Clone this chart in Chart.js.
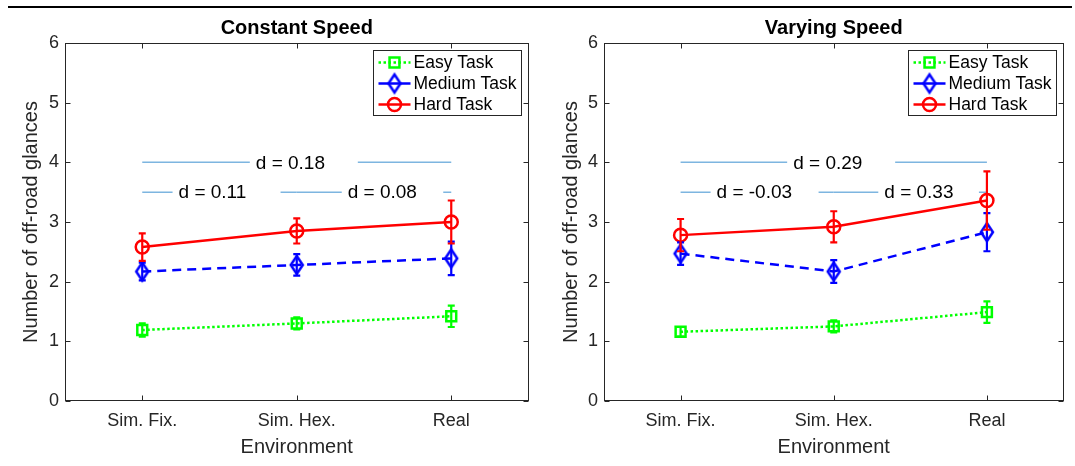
<!DOCTYPE html>
<html lang="en">
<head>
  <meta charset="UTF-8">
  <title>Off-road glances by environment</title>
  <script src="https://cdn.jsdelivr.net/npm/chart.js@4.4.0/dist/chart.umd.min.js"></script>
  <style>
    body { margin: 0; background: #fff; font-family: "Liberation Sans", Arial, sans-serif; }
    .page { position: relative; width: 1075px; height: 466px; }
    .panel { position: absolute; top: 0; height: 466px; }
    .rule { position: absolute; left: 8px; top: 6px; width: 1064px; height: 2px; background: #000; }
  </style>
</head>
<body>
  <div class="page">
    <div class="panel" style="left:0;width:540px"><canvas id="constChart" width="540" height="466"></canvas></div>
    <div class="panel" style="left:540px;width:535px"><canvas id="varyChart" width="535" height="466"></canvas></div>
    <div class="rule"></div>
  </div>

  <script>
    // categories and axis
    const environments = ['Sim. Fix.', 'Sim. Hex.', 'Real'];
    const yTicks = [0, 1, 2, 3, 4, 5, 6];
    const taskNames = ['Easy Task', 'Medium Task', 'Hard Task'];

    // constant speed: means and error bar half-lengths
    const constEasy = [1.19, 1.30, 1.42];
    const constEasyErr = [0.11, 0.10, 0.18];
    const constMedium = [2.17, 2.28, 2.39];
    const constMediumErr = [0.15, 0.18, 0.28];
    const constHard = [2.58, 2.85, 3.00];
    const constHardErr = [0.23, 0.21, 0.36];

    // varying speed
    const varyEasy = [1.16, 1.25, 1.49];
    const varyEasyErr = [0.08, 0.10, 0.18];
    const varyMedium = [2.47, 2.17, 2.83];
    const varyMediumErr = [0.19, 0.19, 0.32];
    const varyHard = [2.78, 2.92, 3.36];
    const varyHardErr = [0.27, 0.26, 0.49];

    // effect sizes between environments (pairs are category positions)
    const effectPairs = [[1, 3], [1, 2], [2, 3]];
    const effectLevels = [4, 3.5, 3.5];
    const effectLabelX = [1.735, 1.235, 2.33];
    const constEffects = [0.18, 0.11, 0.08];
    const varyEffects = [0.29, -0.03, 0.33];

    const AXIS = '#262626';
    const FONT = '"Liberation Sans", Arial, sans-serif';

    // taller-than-wide diamond marker
    function makeDiamond(color) {
      const c = document.createElement('canvas');
      c.width = 18; c.height = 24;
      const g = c.getContext('2d');
      g.strokeStyle = color;
      g.lineWidth = 2.5;
      g.beginPath();
      g.moveTo(9, 3); g.lineTo(15, 12); g.lineTo(9, 21); g.lineTo(3, 12);
      g.closePath();
      g.stroke();
      return c;
    }
    const diamond = makeDiamond('#0000ff');

    function series(values, errs, label, color, dash, style, radius) {
      return {
        label: label,
        data: values.map((v, i) => ({x: i + 1, y: v})),
        errors: errs,
        borderColor: color,
        borderWidth: 2.5,
        borderDash: dash,
        pointStyle: style,
        pointRadius: radius,
        pointHoverRadius: radius,
        pointBorderColor: color,
        pointBorderWidth: 2.5,
        pointBackgroundColor: 'rgba(0,0,0,0)',
        tension: 0
      };
    }

    const matlabAxes = {
      id: 'matlabAxes',
      beforeDatasetsDraw(chart, args, opts) {
        const {ctx, scales: {x, y}} = chart;
        ctx.save();
        ctx.font = '19px ' + FONT;
        ctx.textBaseline = 'middle';
        effectPairs.forEach((p, i) => {
          const py = y.getPixelForValue(effectLevels[i]);
          const x0 = x.getPixelForValue(p[0]), x1 = x.getPixelForValue(p[1]);
          ctx.strokeStyle = '#7db5e0';
          ctx.lineWidth = 1.5;
          ctx.beginPath();
          ctx.moveTo(x0, py);
          ctx.lineTo(x1, py);
          ctx.stroke();
          // white label box interrupts the line
          const label = 'd = ' + opts.effects[i].toFixed(2);
          const tx = x.getPixelForValue(effectLabelX[i]);
          const boxRight = Math.min(tx + 102, x1 - 8);
          ctx.fillStyle = '#fff';
          ctx.fillRect(tx - 6, py - 11, boxRight - tx + 6, 22);
          ctx.fillStyle = '#000';
          ctx.fillText(label, tx, py + 1);
        });
        ctx.restore();
      },
      afterDatasetsDraw(chart) {
        const {ctx, scales: {x, y}} = chart;
        ctx.save();
        ctx.lineWidth = 2.2;
        chart.data.datasets.forEach(ds => {
          ctx.strokeStyle = ds.borderColor;
          ds.data.forEach((pt, i) => {
            const px = x.getPixelForValue(pt.x);
            const top = y.getPixelForValue(pt.y + ds.errors[i]);
            const bot = y.getPixelForValue(pt.y - ds.errors[i]);
            ctx.beginPath();
            ctx.moveTo(px, top); ctx.lineTo(px, bot);
            ctx.moveTo(px - 3.5, top); ctx.lineTo(px + 3.5, top);
            ctx.moveTo(px - 3.5, bot); ctx.lineTo(px + 3.5, bot);
            ctx.stroke();
          });
        });
        ctx.restore();
      },
      afterDraw(chart, args, opts) {
        const {ctx, chartArea: a, scales: {x, y}} = chart;
        ctx.save();
        // box and inward ticks
        ctx.strokeStyle = AXIS;
        ctx.lineWidth = 1;
        const L = Math.round(a.left) + 0.5, R = Math.round(a.right) - 0.5;
        const T = Math.round(a.top) + 0.5, B = Math.round(a.bottom) - 0.5;
        ctx.strokeRect(L, T, R - L, B - T);
        ctx.beginPath();
        x.ticks.forEach(t => {
          const px = Math.round(x.getPixelForValue(t.value)) + 0.5;
          ctx.moveTo(px, B); ctx.lineTo(px, B - 5);
          ctx.moveTo(px, T); ctx.lineTo(px, T + 5);
        });
        y.ticks.forEach(t => {
          const py = Math.round(y.getPixelForValue(t.value)) + 0.5;
          ctx.moveTo(L, py); ctx.lineTo(L + 5, py);
          ctx.moveTo(R, py); ctx.lineTo(R - 5, py);
        });
        ctx.stroke();

        // title
        ctx.fillStyle = '#000';
        ctx.font = 'bold 20px ' + FONT;
        ctx.textAlign = 'center';
        ctx.textBaseline = 'middle';
        ctx.fillText(opts.title, (a.left + a.right) / 2, 28);

        // legend
        const bw = 148, bh = 65;
        const bx = Math.round(a.right - 8 - bw) + 0.5, by = Math.round(a.top + 7) + 0.5;
        ctx.fillStyle = '#fff';
        ctx.fillRect(bx, by, bw, bh);
        ctx.strokeStyle = AXIS;
        ctx.lineWidth = 1;
        ctx.strokeRect(bx, by, bw, bh);
        ctx.font = '17.5px ' + FONT;
        ctx.textAlign = 'left';
        chart.data.datasets.forEach((ds, i) => {
          const ry = by + 12 + i * 21;
          ctx.strokeStyle = ds.borderColor;
          ctx.lineWidth = 2.5;
          ctx.setLineDash(i === 0 ? ds.borderDash : []);
          ctx.beginPath();
          ctx.moveTo(bx + 5, ry); ctx.lineTo(bx + 37, ry);
          ctx.stroke();
          ctx.setLineDash([]);
          ctx.fillStyle = 'rgba(0,0,0,0)';
          Chart.helpers.drawPoint(ctx, {pointStyle: ds.pointStyle, radius: ds.pointRadius, borderWidth: 2.5, rotation: 0}, bx + 21, ry);
          ctx.fillStyle = '#000';
          ctx.textBaseline = 'middle';
          ctx.fillText(ds.label, bx + 40, ry + 1);
        });
        ctx.restore();
      }
    };

    function makeChart(id, title, easy, easyErr, medium, mediumErr, hard, hardErr, effects, rightPad, yWidth) {
      return new Chart(document.getElementById(id), {
        type: 'line',
        data: {
          datasets: [
            series(easy, easyErr, taskNames[0], '#00ff00', [2.5, 2.5], 'rect', 7),
            series(medium, mediumErr, taskNames[1], '#0000ff', [9, 6], diamond, 9),
            series(hard, hardErr, taskNames[2], '#ff0000', [], 'circle', 6.5)
          ]
        },
        plugins: [matlabAxes],
        options: {
          responsive: false,
          animation: false,
          events: [],
          layout: {padding: {left: 0, top: 43, right: rightPad, bottom: 0}},
          scales: {
            x: {
              type: 'linear',
              min: 0.5,
              max: 3.5,
              afterBuildTicks: s => { s.ticks = environments.map((e, i) => ({value: i + 1})); },
              afterFit: s => { s.height = 65; },
              grid: {display: false, drawTicks: false},
              border: {display: false},
              ticks: {
                padding: 9,
                color: AXIS,
                font: {family: FONT, size: 18},
                callback: v => environments[v - 1]
              },
              title: {display: true, text: 'Environment', color: AXIS, font: {family: FONT, size: 20}, padding: {top: 0, bottom: 7}}
            },
            y: {
              min: 0,
              max: 6,
              afterBuildTicks: s => { s.ticks = yTicks.map(v => ({value: v})); },
              afterFit: s => { s.width = yWidth; },
              grid: {display: false, drawTicks: false},
              border: {display: false},
              ticks: {padding: 6, color: AXIS, font: {family: FONT, size: 18}},
              title: {display: true, text: 'Number of off-road glances', color: AXIS, font: {family: FONT, size: 20}, padding: {top: 19, bottom: 0}}
            }
          },
          plugins: {
            legend: {display: false},
            tooltip: {enabled: false},
            matlabAxes: {title: title, effects: effects}
          }
        }
      });
    }

    makeChart('constChart', 'Constant Speed', constEasy, constEasyErr, constMedium, constMediumErr, constHard, constHardErr, constEffects, 11, 65);
    makeChart('varyChart', 'Varying Speed', varyEasy, varyEasyErr, varyMedium, varyMediumErr, varyHard, varyHardErr, varyEffects, 9, 64);
  </script>
</body>
</html>
